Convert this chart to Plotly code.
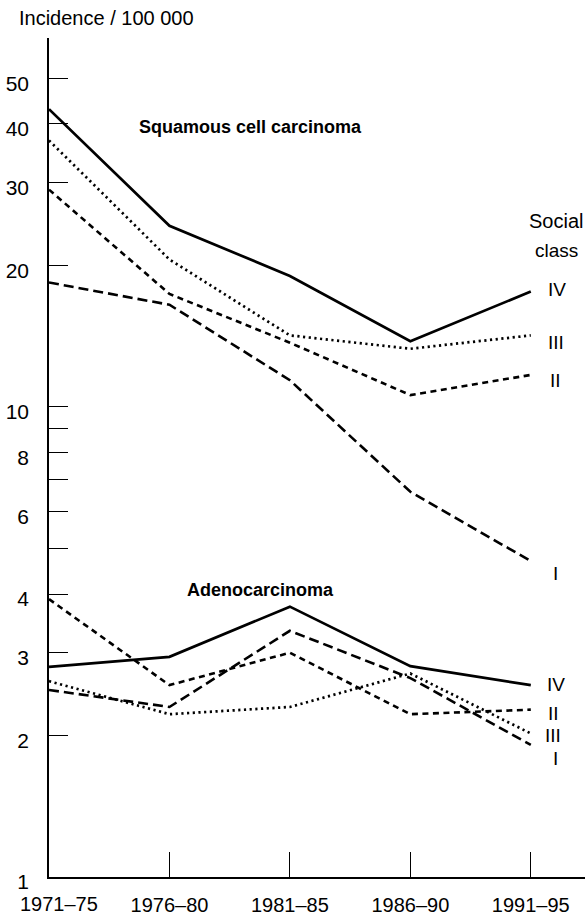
import plotly.graph_objects as go

periods = ["1971–75", "1976–80", "1981–85", "1986–90", "1991–95"]
classes = ["I", "II", "III", "IV"]

# Squamous cell carcinoma, incidence / 100 000
sq_I = [18.4, 16.5, 11.4, 6.6, 4.7]
sq_II = [29.0, 17.4, 13.7, 10.6, 11.7]
sq_III = [36.9, 20.6, 14.2, 13.3, 14.2]
sq_IV = [43.0, 24.3, 19.0, 13.8, 17.6]

# Adenocarcinoma
ad_I = [2.50, 2.30, 3.34, 2.65, 1.91]
ad_II = [3.90, 2.56, 3.00, 2.22, 2.27]
ad_III = [2.61, 2.22, 2.30, 2.71, 2.02]
ad_IV = [2.80, 2.94, 3.76, 2.81, 2.56]

ytick_vals = [1, 2, 3, 4, 5, 6, 7, 8, 9, 10, 20, 30, 40, 50]
ytick_text = ["1", "2", "3", "4", "", "6", "", "8", "", "10", "20", "30", "40", "50"]

styles = {
    "I": dict(dash="10px,5px", width=2.6),
    "II": dict(dash="6px,4.5px", width=2.6),
    "III": dict(dash="2.2px,3.5px", width=2.7),
    "IV": dict(dash="solid", width=2.7),
}

xs = list(range(len(periods)))
# first period label is drawn as an annotation, nudged right off the y axis as in the original
xtick_text = [""] + periods[1:]

fig = go.Figure()
for name, vals in zip(classes, [sq_I, sq_II, sq_III, sq_IV]):
    fig.add_trace(go.Scatter(x=xs, y=vals, mode="lines", name="SCC " + name,
                             line=dict(color="black", **styles[name]), showlegend=False))
for name, vals in zip(classes, [ad_I, ad_II, ad_III, ad_IV]):
    fig.add_trace(go.Scatter(x=xs, y=vals, mode="lines", name="Adeno " + name,
                             line=dict(color="black", **styles[name]), showlegend=False))

FONT = "Liberation Sans, Arial, sans-serif"

fig.update_layout(
    width=585, height=915,
    margin=dict(l=49, r=0, t=38, b=38),
    paper_bgcolor="white", plot_bgcolor="white",
    font=dict(family=FONT, color="black", size=20),
    xaxis=dict(range=[0, 4.45], tickvals=xs, ticktext=xtick_text,
               showgrid=False, zeroline=False, showline=True, linecolor="black", linewidth=1.5,
               ticks="inside", ticklen=25, tickcolor="black", tickwidth=1.2,
               tickfont=dict(size=20), ticklabelstandoff=9),
    yaxis=dict(type="log", range=[0, 1.785], tickvals=ytick_vals, ticktext=ytick_text,
               showgrid=False, zeroline=False, showline=True, linecolor="black", linewidth=1.5,
               ticks="inside", ticklen=19, tickcolor="black", tickwidth=1.2,
               tickfont=dict(size=21), ticklabelshift=5, ticklabelstandoff=14),
)

def px(xp):
    return (xp - 49) / 536

def py(yp):
    return (877 - yp) / 839

fig.add_annotation(text=periods[0], x=xs[0], xref="x", xshift=10,
                   y=py(904), yref="paper", xanchor="center", yanchor="middle",
                   showarrow=False, font=dict(size=20, family=FONT, color="black"))

annos = [
    dict(text="Incidence / 100 000", x=px(17), y=py(18), xanchor="left", size=20, bold=False),
    dict(text="Squamous cell carcinoma", x=px(250), y=py(127), xanchor="center", size=18, bold=True),
    dict(text="Adenocarcinoma", x=px(260), y=py(590), xanchor="center", size=18, bold=True),
    dict(text="Social", x=px(527), y=py(221), xanchor="left", size=20, bold=False),
    dict(text="class", x=px(556), y=py(250), xanchor="center", size=19, bold=False),
    dict(text="IV", x=px(557), y=py(289), xanchor="center", size=19, bold=False),
    dict(text="III", x=px(556), y=py(342), xanchor="center", size=19, bold=False),
    dict(text="II", x=px(555), y=py(380), xanchor="center", size=19, bold=False),
    dict(text="I", x=px(555), y=py(573), xanchor="center", size=19, bold=False),
    dict(text="IV", x=px(556), y=py(684), xanchor="center", size=19, bold=False),
    dict(text="II", x=px(553), y=py(713), xanchor="center", size=19, bold=False),
    dict(text="III", x=px(553), y=py(735), xanchor="center", size=19, bold=False),
    dict(text="I", x=px(555), y=py(758), xanchor="center", size=19, bold=False),
]
for a in annos:
    t = "<b>%s</b>" % a["text"] if a["bold"] else a["text"]
    fig.add_annotation(text=t, x=a["x"], y=a["y"], xref="paper", yref="paper",
                       xanchor=a["xanchor"], yanchor="middle", showarrow=False,
                       font=dict(size=a["size"], family=FONT, color="black"))

fig.write_html("out.html", config={"displayModeBar": False},
               post_script="document.body.style.margin='0';document.body.style.overflow='hidden';")
